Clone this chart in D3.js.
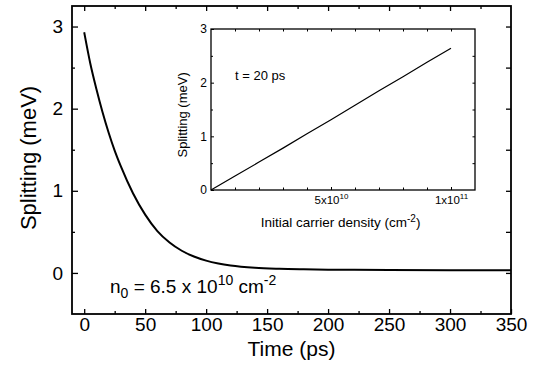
<!DOCTYPE html>
<html><head><meta charset="utf-8">
<script src="https://cdn.jsdelivr.net/npm/d3@7"></script>
<style>
body{margin:0;background:#fff;}
svg{display:block;font-family:"Liberation Sans",Arial,sans-serif;}
</style></head>
<body>
<svg id="c" width="545" height="381"></svg>
<script>
// Main panel: splitting vs time
const timePs = [0,5,10,15,20,25,30,40,50,60,70,80,90,100,110,120,140,160,180,200,250,300,350];
const splitMeV = [2.93,2.55,2.24,1.96,1.71,1.49,1.30,0.97,0.71,0.51,0.37,0.27,0.20,0.15,0.115,0.09,0.062,0.05,0.044,0.04,0.036,0.034,0.033];
const xTicks = [0,50,100,150,200,250,300,350];
const yTicks = [0,1,2,3];
// Inset: splitting at t = 20 ps vs initial carrier density
const density = [0,1e10,2e10,3e10,4e10,5e10,6e10,7e10,8e10,9e10,1e11];
const insetSplit = [0,0.26,0.52,0.78,1.05,1.31,1.58,1.85,2.11,2.38,2.64];
const insetXTicks = [5e10,1e11];
const insetXTickLabels = [["5x10","10"],["1x10","11"]];
const insetYTicks = [0,1,2,3];

const svg = d3.select("#c");
const x = d3.scaleLinear([-10,350],[72,511]);
const y = d3.scaleLinear([-0.5,3.25],[314,6]);

// frame
svg.append("rect").attr("x",72).attr("y",6).attr("width",439).attr("height",308)
  .attr("fill","none").attr("stroke","#000").attr("stroke-width",1.8);

function styleAxis(g){ g.select(".domain").remove(); g.selectAll("line").attr("stroke","#000").attr("stroke-width",1.3); }

// bottom axis major
svg.append("g").attr("transform","translate(0,314)")
  .call(d3.axisBottom(x).tickValues(xTicks).tickSize(-5).tickPadding(4).tickFormat(d3.format("d")))
  .call(styleAxis)
  .call(g=>g.selectAll("text").attr("font-size",19).attr("fill","#000").attr("dy","0.71em"));
// bottom minor
svg.append("g").attr("transform","translate(0,314)")
  .call(d3.axisBottom(x).tickValues([25,75,125,175,225,275,325]).tickSize(-3).tickFormat(""))
  .call(styleAxis);
// top ticks
svg.append("g").attr("transform","translate(0,6)")
  .call(d3.axisTop(x).tickValues(xTicks.slice(0,7)).tickSize(-5).tickFormat(""))
  .call(styleAxis);
svg.append("g").attr("transform","translate(0,6)")
  .call(d3.axisTop(x).tickValues([25,75,125,175,225,275,325]).tickSize(-3).tickFormat(""))
  .call(styleAxis);
// left axis
svg.append("g").attr("transform","translate(72,0)")
  .call(d3.axisLeft(y).tickValues(yTicks).tickSize(-6).tickPadding(9).tickFormat(d3.format("d")))
  .call(styleAxis)
  .call(g=>g.selectAll("text").attr("font-size",19).attr("fill","#000"));
svg.append("g").attr("transform","translate(72,0)")
  .call(d3.axisLeft(y).tickValues([0.5,1.5,2.5]).tickSize(-3).tickFormat(""))
  .call(styleAxis);
// right axis
svg.append("g").attr("transform","translate(511,0)")
  .call(d3.axisRight(y).tickValues([0,0.5,1,1.5,2,2.5,3]).tickSize(-5).tickFormat(""))
  .call(styleAxis);

// axis titles
svg.append("text").attr("x",x(170)).attr("y",356).attr("text-anchor","middle")
  .attr("font-size",21).text("Time (ps)");
svg.append("text").attr("transform","translate(36,"+y(1.4)+") rotate(-90)")
  .attr("text-anchor","middle").attr("font-size",22).text("Splitting (meV)");

// main curve
const line = d3.line().x((d,i)=>x(timePs[i])).y(d=>y(d)).curve(d3.curveMonotoneX);
svg.append("path").attr("d",line(splitMeV)).attr("fill","none").attr("stroke","#000").attr("stroke-width",2);

// n0 label
const nt = svg.append("text").attr("x",110).attr("y",293).attr("font-size",19);
nt.append("tspan").text("n");
nt.append("tspan").attr("font-size",14).attr("dy",5).text("0");
nt.append("tspan").attr("dy",-5).text(" = 6.5 x 10");
nt.append("tspan").attr("font-size",14).attr("dy",-8).text("10");
nt.append("tspan").attr("dy",8).text(" cm");
nt.append("tspan").attr("font-size",14).attr("dy",-8).text("-2");

// ---- Inset ----
const ix = d3.scaleLinear([0,1.1e11],[211,475]);
const iy = d3.scaleLinear([0,3],[190,29]);
svg.append("rect").attr("x",211).attr("y",29).attr("width",264).attr("height",161)
  .attr("fill","none").attr("stroke","#000").attr("stroke-width",1.3);
function styleI(g){ g.select(".domain").remove(); g.selectAll("line").attr("stroke","#000").attr("stroke-width",1); }
const iMinor = d3.range(1,11).map(k=>k*1e10);
svg.append("g").attr("transform","translate(0,190)")
  .call(d3.axisBottom(ix).tickValues(iMinor).tickSize(-2.5).tickFormat("")).call(styleI);
svg.append("g").attr("transform","translate(0,29)")
  .call(d3.axisTop(ix).tickValues(iMinor).tickSize(-2.5).tickFormat("")).call(styleI);
const ixa = svg.append("g").attr("transform","translate(0,190)")
  .call(d3.axisBottom(ix).tickValues(insetXTicks).tickSize(-3).tickPadding(6).tickFormat(""))
  .call(styleI);
ixa.selectAll(".tick text").each(function(d,i){
  const t = d3.select(this).attr("font-size",11.5).attr("fill","#000").attr("dy","0.71em");
  t.append("tspan").text(insetXTickLabels[i][0]);
  t.append("tspan").attr("font-size",8).attr("dy",-5).text(insetXTickLabels[i][1]);
});
svg.append("g").attr("transform","translate(211,0)")
  .call(d3.axisLeft(iy).tickValues(insetYTicks).tickSize(-3).tickPadding(4).tickFormat(d3.format("d")))
  .call(styleI)
  .call(g=>g.selectAll("text").attr("font-size",12).attr("fill","#000"));
svg.append("g").attr("transform","translate(211,0)")
  .call(d3.axisLeft(iy).tickValues([0.5,1.5,2.5]).tickSize(-2).tickFormat("")).call(styleI);
svg.append("g").attr("transform","translate(475,0)")
  .call(d3.axisRight(iy).tickValues([0.5,1,1.5,2,2.5]).tickSize(-2.5).tickFormat("")).call(styleI);

const iline = d3.line().x((d,i)=>ix(density[i])).y(d=>iy(d));
svg.append("path").attr("d",iline(insetSplit)).attr("fill","none").attr("stroke","#000").attr("stroke-width",1.2);

svg.append("text").attr("x",235).attr("y",80).attr("font-size",13).text("t = 20 ps");

const ixl = svg.append("text").attr("x",ix(5.4e10)).attr("y",227).attr("text-anchor","middle").attr("font-size",13.5);
ixl.append("tspan").text("Initial carrier density (cm");
ixl.append("tspan").attr("font-size",10).attr("dy",-5).text("-2");
ixl.append("tspan").attr("dy",5).text(")");
svg.append("text").attr("transform","translate(187,"+iy(1.4)+") rotate(-90)")
  .attr("text-anchor","middle").attr("font-size",13).text("Splitting (meV)");
</script>
</body></html>
